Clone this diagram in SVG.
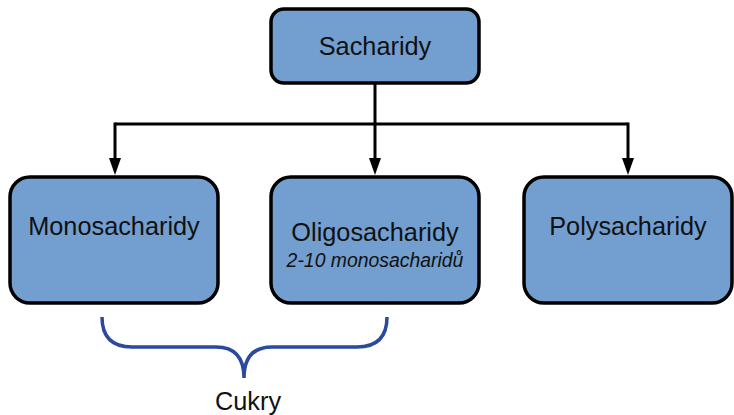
<svg xmlns="http://www.w3.org/2000/svg" width="734" height="415" viewBox="0 0 734 415">
<defs>
<style>
.box{fill:#729fcf;stroke:#000;stroke-width:3.5}
.t{font-family:"Liberation Sans",Arial,sans-serif;font-size:25.3px;fill:#111;text-anchor:middle}
.ti{font-family:"Liberation Sans",Arial,sans-serif;font-size:19.4px;font-style:italic;fill:#111;text-anchor:middle}
.c{fill:none;stroke:#000;stroke-width:3}
</style>
</defs>
<g id="connectors">
<path class="c" d="M375,83 V124"/>
<path class="c" d="M115,124 H628"/>
<path class="c" d="M115,122.5 V158" />
<path d="M109,158 L121,158 L115,175 Z" fill="#000"/>
<path class="c" d="M375,124 V158"/>
<path d="M369,158 L381,158 L375,175 Z" fill="#000"/>
<path class="c" d="M628,122.5 V158"/>
<path d="M622,158 L634,158 L628,175 Z" fill="#000"/>
</g>
<g id="sacharidy">
<rect class="box" x="271" y="9" width="208" height="74" rx="13"/>
<text class="t" x="375" y="55">Sacharidy</text>
</g>
<g id="monosacharidy">
<rect class="box" x="10" y="177" width="208" height="126" rx="20"/>
<text class="t" x="114" y="235">Monosacharidy</text>
</g>
<g id="oligosacharidy">
<rect class="box" x="271" y="177" width="208" height="126" rx="20"/>
<text class="t" x="375" y="241">Oligosacharidy</text>
<text class="ti" x="375" y="267">2-10 monosacharidů</text>
</g>
<g id="polysacharidy">
<rect class="box" x="524" y="177" width="208" height="126" rx="20"/>
<text class="t" x="628" y="235">Polysacharidy</text>
</g>
<g id="cukry">
<path d="M102,317 Q102,347 132,347 H216 Q244,347 244,378 Q244,347 272,347 H357 Q387,347 387,317" fill="none" stroke="#2b4a9e" stroke-width="3.5"/>
<text class="t" x="248" y="410">Cukry</text>
</g>
</svg>
